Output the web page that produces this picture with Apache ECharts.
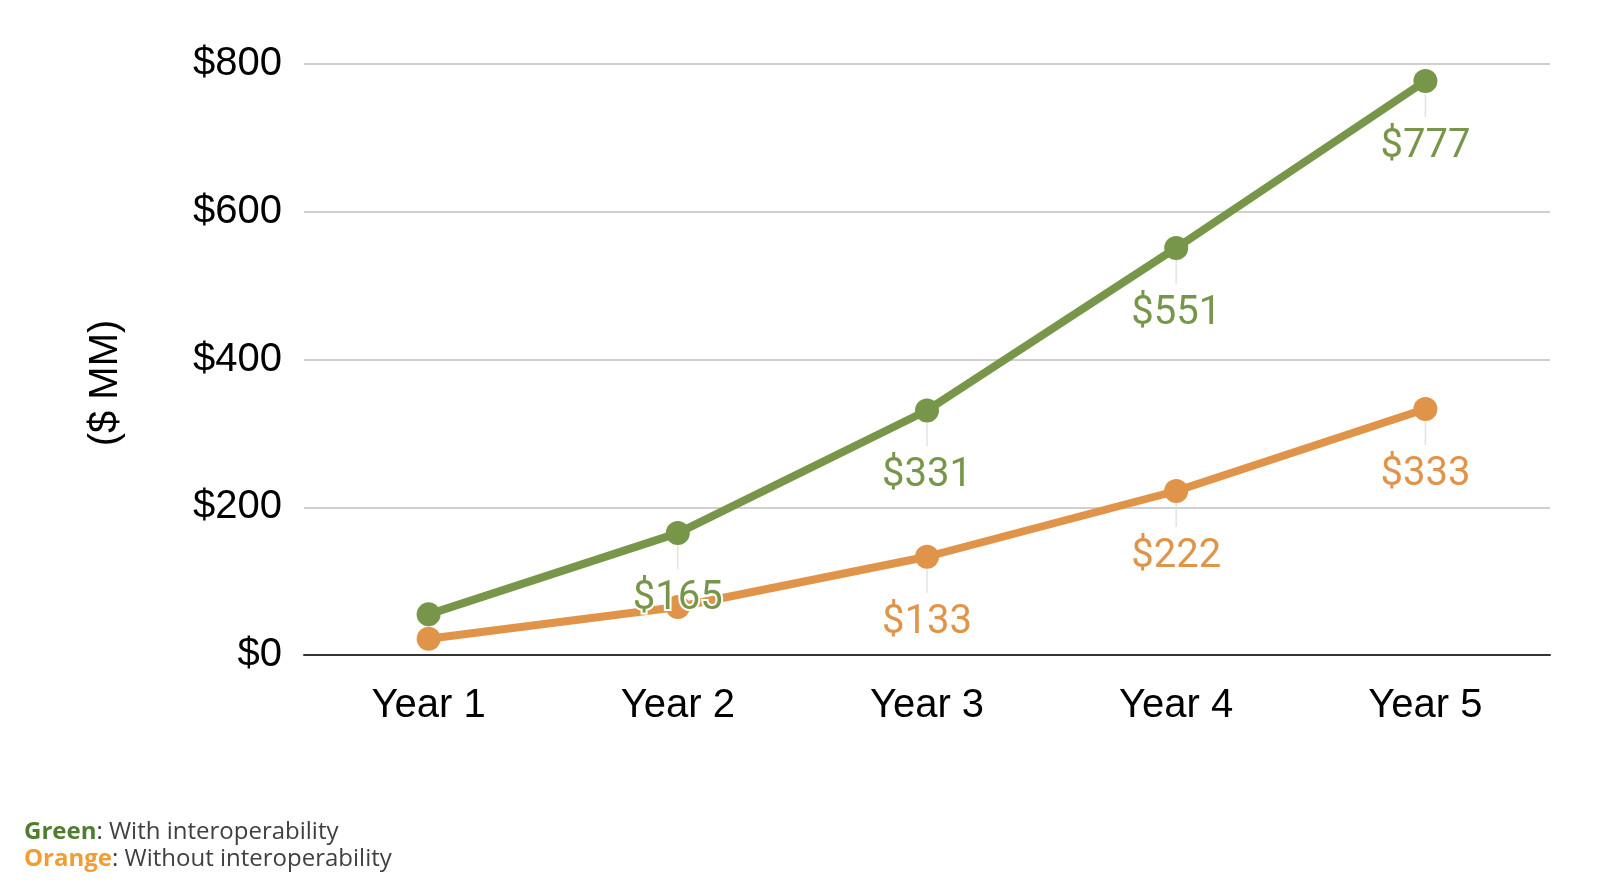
<!DOCTYPE html>
<html>
<head>
<meta charset="utf-8">
<style>
  html, body { margin: 0; padding: 0; background: #ffffff; }
  #chart { width: 1620px; height: 890px; }
</style>
<script src="https://cdn.jsdelivr.net/npm/echarts@6/dist/echarts.min.js"></script>
</head>
<body>
<div id="chart"></div>
<script>
// ---- Data ----
const categories = ['Year 1', 'Year 2', 'Year 3', 'Year 4', 'Year 5'];
const withInterop = [55, 165, 331, 551, 777];
const withoutInterop = [22, 65, 133, 222, 333];
const withLabelShown = [false, true, true, true, true];
const withoutLabelShown = [false, false, true, true, true];
const yTicks = [0, 200, 400, 600, 800];

const GREEN = '#77964A';
const ORANGE = '#E0944A';

function seriesData(values, shown) {
  return values.map((v, i) => ({ value: v, label: { show: shown[i] } }));
}
function leaderData(values, shown) {
  return values.map((v, i) => shown[i] ? v : null);
}

const chart = echarts.init(document.getElementById('chart'));
const dataLabel = (color) => ({
  show: true,
  position: 'bottom',
  distance: 34,
  color: color,
  fontFamily: 'Roboto',
  fontSize: 40,
  textBorderColor: '#ffffff',
  textBorderWidth: 4,
  formatter: (p) => '$' + p.value
});
const leaderSeries = (values, shown) => ({
  type: 'scatter',
  data: leaderData(values, shown),
  symbol: 'rect',
  symbolSize: [1.5, 24],
  symbolOffset: [0, 24],
  itemStyle: { color: '#dcdcdc' },
  silent: true,
  z: 1
});

chart.setOption({
  animation: false,
  grid: { left: 304, right: 70, top: 64, bottom: 235 },
  xAxis: {
    type: 'category',
    data: categories,
    boundaryGap: true,
    axisLine: { lineStyle: { color: '#333333', width: 2 } },
    axisTick: { show: false },
    axisLabel: { color: '#000000', fontFamily: 'Liberation Sans', fontSize: 40, margin: 31 }
  },
  yAxis: {
    type: 'value',
    min: yTicks[0],
    max: yTicks[yTicks.length - 1],
    interval: 200,
    axisLine: { show: false },
    axisTick: { show: false },
    splitLine: { lineStyle: { color: '#d0d0d0', width: 2 } },
    axisLabel: {
      color: '#000000', fontFamily: 'Liberation Sans', fontSize: 40, margin: 22,
      padding: [10, 0, 0, 0],
      formatter: (v) => '$' + v
    }
  },
  graphic: [
    {
      type: 'text',
      x: 106, y: 383,
      rotation: Math.PI / 2,
      style: {
        text: '($ MM)', fill: '#000000', font: '40px "Liberation Sans"',
        align: 'center', verticalAlign: 'middle'
      }
    },
    {
      type: 'text', left: 24, top: 820,
      style: {
        rich: {
          g: { fill: '#4E7E2E', fontWeight: 'bold', fontFamily: 'Open Sans', fontSize: 24 },
          t: { fill: '#404040', fontFamily: 'Open Sans', fontSize: 24 }
        },
        text: '{g|Green}{t|: With interoperability}'
      }
    },
    {
      type: 'text', left: 24, top: 847,
      style: {
        rich: {
          o: { fill: '#F39C33', fontWeight: 'bold', fontFamily: 'Open Sans', fontSize: 24 },
          t: { fill: '#404040', fontFamily: 'Open Sans', fontSize: 24 }
        },
        text: '{o|Orange}{t|: Without interoperability}'
      }
    }
  ],
  series: [
    leaderSeries(withoutInterop, withoutLabelShown),
    leaderSeries(withInterop, withLabelShown),
    {
      name: 'Without interoperability',
      type: 'line',
      data: seriesData(withoutInterop, withoutLabelShown),
      symbol: 'circle',
      symbolSize: 24,
      lineStyle: { color: ORANGE, width: 8 },
      itemStyle: { color: ORANGE },
      label: dataLabel(ORANGE),
      z: 3
    },
    {
      name: 'With interoperability',
      type: 'line',
      data: seriesData(withInterop, withLabelShown),
      symbol: 'circle',
      symbolSize: 24,
      lineStyle: { color: GREEN, width: 8 },
      itemStyle: { color: GREEN },
      label: dataLabel(GREEN),
      z: 4
    }
  ]
});
</script>
</body>
</html>
